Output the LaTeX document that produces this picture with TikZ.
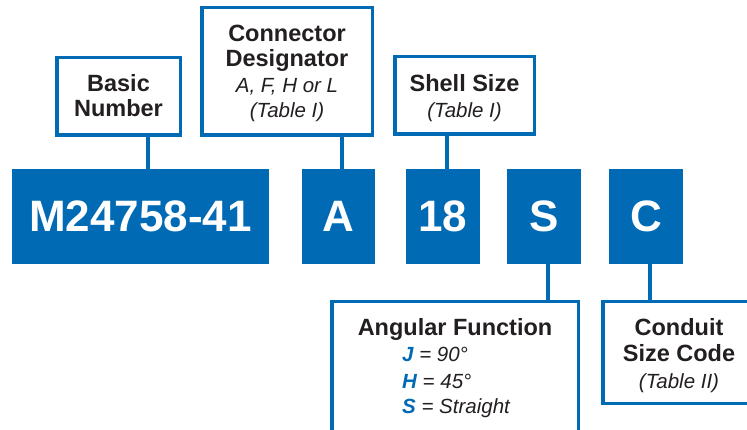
\documentclass[tikz,border=0pt]{standalone}
\usepackage{fontspec}
\setmainfont{Liberation Sans}
\definecolor{mblue}{RGB}{0,106,180}
\definecolor{ink}{RGB}{35,31,32}
\begin{document}
\begin{tikzpicture}[x=1pt,y=-1pt,
 codebox/.style={fill=mblue, draw=none, inner sep=0, text=white, font=\fontsize{44}{44}\selectfont\bfseries},
 labelbox/.style={draw=mblue, line width=3.5pt, fill=white, inner sep=0},
 conn/.style={draw=mblue, line width=4pt},
 boldtxt/.style={font=\fontsize{23.5}{25}\selectfont\bfseries, text=ink, inner sep=0, anchor=base},
 itxt/.style={font=\fontsize{20.5}{25}\selectfont\itshape, text=ink, inner sep=0, anchor=base},
 keytxt/.style={font=\fontsize{20.5}{25}\selectfont\itshape, text=ink, inner sep=0, anchor=base west},
]
\clip (0,0) rectangle (747,430);
\fill[white] (0,0) rectangle (747,430);
% code boxes
\node[codebox, minimum width=257pt, minimum height=95pt] (m) at (140.5,216.5) {M24758-41};
\node[codebox, minimum width=73pt, minimum height=95pt] (a) at (338.5,216.5) {A};
\node[codebox, minimum width=74pt, minimum height=95pt] (n18) at (443,216.5) {18};
\node[codebox, minimum width=74pt, minimum height=95pt] (s) at (544,216.5) {S};
\node[codebox, minimum width=74pt, minimum height=95pt] (c) at (646,216.5) {C};
% label boxes
\node[labelbox, minimum width=123.5pt, minimum height=77.5pt] (bn) at (118.5,96.5) {};
\node[labelbox, minimum width=170.5pt, minimum height=127.5pt] (cd) at (287,71.5) {};
\node[labelbox, minimum width=139.5pt, minimum height=77.5pt] (ss) at (464.5,95.5) {};
\node[labelbox, minimum width=246.5pt, minimum height=156.5pt] (af) at (455,380) {};
\node[labelbox, minimum width=175.5pt, minimum height=101.5pt] (cs) at (690.5,352.5) {};
% connector x positions
\coordinate (x1) at (148,0);
\coordinate (x2) at (342,0);
\coordinate (x3) at (447,0);
\coordinate (x4) at (548,0);
\coordinate (x5) at (650,0);
\draw[conn] (bn.south -| x1) -- (m.north -| x1);
\draw[conn] (cd.south -| x2) -- (a.north -| x2);
\draw[conn] (ss.south -| x3) -- (n18.north -| x3);
\draw[conn] (s.south -| x4) -- (af.north -| x4);
\draw[conn] (c.south -| x5) -- (cs.north -| x5);
% texts
\node[boldtxt] (t1) at (118.5,92) {Basic};
\node[boldtxt] (t2) at (118.5,117) {Number};
\node[boldtxt] (t3) at (287,42) {Connector};
\node[boldtxt] (t4) at (287,67) {Designator};
\node[itxt] (t5) at (287,93) {A, F, H or L};
\node[itxt] (t6) at (287,118) {(Table I)};
\node[boldtxt] (t7) at (464.5,92) {Shell Size};
\node[itxt] (t8) at (464.5,118) {(Table I)};
\node[boldtxt] (t9) at (455,336) {Angular Function};
\node[keytxt] (t10) at (402,361) {{\bfseries\color{mblue}J} = 90°};
\node[keytxt] (t11) at (402,388) {{\bfseries\color{mblue}H} = 45°};
\node[keytxt] (t12) at (402,413) {{\bfseries\color{mblue}S} = Straight};
\node[boldtxt] (t13) at (679,335) {Conduit};
\node[boldtxt] (t14) at (679,361) {Size Code};
\node[itxt] (t15) at (679,388) {(Table II)};
\end{tikzpicture}
\end{document}
